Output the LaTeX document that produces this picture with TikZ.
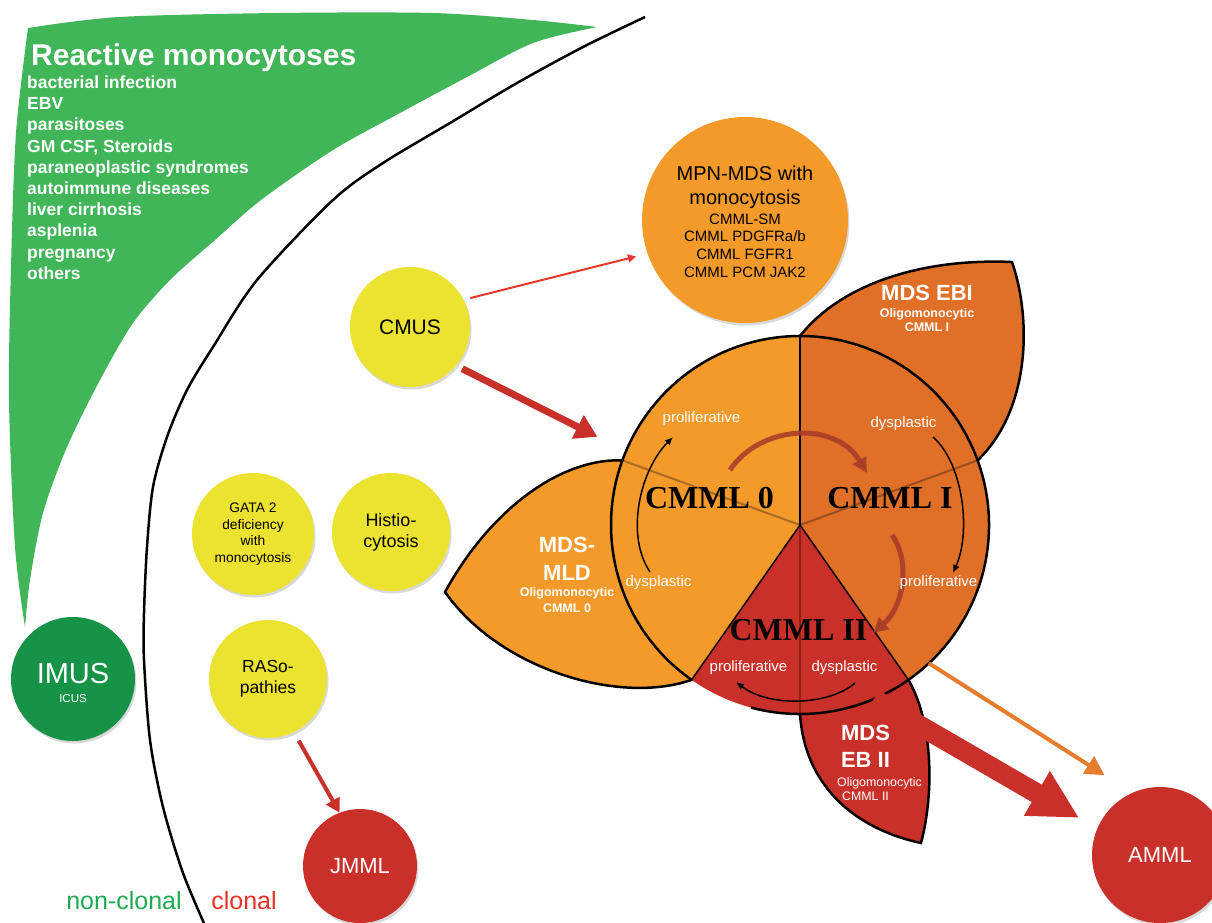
\documentclass[tikz,border=0pt]{standalone}
\usepackage{fontspec}
\setmainfont{Liberation Sans}
\newfontfamily\stagefont{Liberation Serif}
\usepackage{tikz}
\usetikzlibrary{arrows.meta,shadows}
\definecolor{reactgreen}{RGB}{64,182,88}
\definecolor{imusgreen}{RGB}{23,147,72}
\definecolor{dotyellow}{RGB}{236,226,48}
\definecolor{lightorange}{RGB}{244,154,43}
\definecolor{darkorange}{RGB}{224,111,40}
\definecolor{cmmlred}{RGB}{201,48,41}
\definecolor{arrowred}{RGB}{232,56,45}
\definecolor{arroworange}{RGB}{230,124,46}
\definecolor{arcred}{RGB}{166,58,40}
\definecolor{labelgreen}{RGB}{30,170,80}
\definecolor{labelred}{RGB}{232,50,40}
\tikzstyle{blob}=[circle, inner sep=0pt, outer sep=0pt, align=center, drop shadow={shadow xshift=1.5pt, shadow yshift=-2.5pt, opacity=0.3}]
\tikzstyle{yellowblob}=[blob, fill=dotyellow, text=black]
\tikzstyle{redblob}=[blob, fill=cmmlred, text=white, font=\fontsize{22}{26}\selectfont]
\tikzstyle{titletext}=[anchor=base west, inner sep=0pt, text=white, font=\bfseries\fontsize{30}{36}\selectfont]
\tikzstyle{listtext}=[anchor=base west, inner sep=0pt, text=white, font=\bfseries\fontsize{17.5}{21}\selectfont]
\tikzstyle{mpnbig}=[anchor=base, inner sep=0pt, font=\fontsize{20}{24}\selectfont]
\tikzstyle{mpnsmall}=[anchor=base, inner sep=0pt, font=\fontsize{15}{18}\selectfont]
\tikzstyle{lobebig}=[anchor=base, inner sep=0pt, text=white, font=\bfseries\fontsize{22}{26}\selectfont]
\tikzstyle{lobesmall}=[anchor=base, inner sep=0pt, text=white, font=\bfseries\fontsize{12.5}{15}\selectfont]
\tikzstyle{stagetext}=[anchor=base, inner sep=0pt, font=\stagefont\bfseries\fontsize{32}{38}\selectfont]
\tikzstyle{phasetext}=[anchor=base, inner sep=0pt, text=white, font=\fontsize{15}{18}\selectfont]
\tikzstyle{lobeline}=[draw=black, line width=2.5pt, line join=miter]
\tikzstyle{thinarrow}=[draw=arrowred, line width=2pt, -{Triangle[length=8pt,width=8pt]}]
\tikzstyle{thickarrow}=[draw=cmmlred, line width=7pt, -{Triangle[length=22pt,width=25pt]}]
\tikzstyle{hugearrow}=[draw=cmmlred, line width=20pt, -{Triangle[length=49pt,width=48pt]}]
\tikzstyle{orangearrow}=[draw=arroworange, line width=4pt, -{Triangle[length=19pt,width=20pt]}]
\tikzstyle{jmmlarrow}=[draw=cmmlred, line width=4pt, -{Triangle[length=14pt,width=15pt]}]
\tikzstyle{cyclearrow}=[draw=black, line width=1.5pt, -{Latex[length=8pt,width=7pt]}]
\tikzstyle{progarrow}=[draw=arcred, opacity=0.85, line width=5pt, -{Triangle[length=15pt,width=15pt]}]

\begin{document}
\begin{tikzpicture}[x=1pt, y=-1pt]
	\useasboundingbox (0, 0) rectangle (1212, 922);
	\begin{scope}
		\fill[reactgreen] plot[smooth] coordinates {(28,28) (119,17) (277,13) (433,13) (533,20) (597,27)}
			-- plot[smooth] coordinates {(597,27) (533,43) (467,77) (400,113) (333,150) (261,200) (215,240) (170,280) (133,323) (100,380) (67,447) (43,513) (30,580) (25,627)}
			-- plot[smooth] coordinates {(25,627) (15,547) (9,400) (11,267) (16,133) (28,28)} -- cycle;
		\draw[line width=2.5pt] plot[smooth] coordinates {(645,17) (583,47) (517,83) (450,123) (383,163) (333,200) (257,280) (213,347) (187,390) (167,437) (153,487) (147,547) (144,613) (144,660) (150,740) (163,807) (183,873) (207,930)};
		\node (react) at (31, 65.7)[titletext] {Reactive monocytoses};
		\foreach \cause [count=\i] in {bacterial infection, EBV, parasitoses, {GM CSF, Steroids}, paraneoplastic syndromes, autoimmune diseases, liver cirrhosis, asplenia, pregnancy, others}
			\node (react\i) at (27, {67.3+21.2*\i})[listtext] {\cause};
		\node (nonclonal) at (124, 909.3)[anchor=base, inner sep=0pt, text=labelgreen, font=\fontsize{25}{30}\selectfont] {non-clonal};
		\node (clonal) at (244, 909.3)[anchor=base, inner sep=0pt, text=labelred, font=\fontsize{25}{30}\selectfont] {clonal};
	\end{scope}
	\begin{scope}
		\node (imus) at (73, 679)[blob, fill=imusgreen, minimum size=124pt] {};
		\node (imust) at (73, 683.3)[anchor=base, inner sep=0pt, text=white, font=\fontsize{29}{34}\selectfont] {IMUS};
		\node (icus) at (73, 702.3)[anchor=base, inner sep=0pt, text=white, font=\fontsize{11.5}{14}\selectfont] {ICUS};
		\node (cmus) at (410, 327)[yellowblob, minimum size=120pt, font=\fontsize{21}{25}\selectfont] {CMUS};
		\node (gata) at (253, 534)[yellowblob, minimum size=122pt, font=\fontsize{13.8}{16.7}\selectfont] {GATA 2\\deficiency\\with\\monocytosis};
		\node (histio) at (391, 532)[yellowblob, minimum size=118pt, font=\fontsize{18}{21}\selectfont] {Histio-\\cytosis};
		\node (raso) at (268, 679)[yellowblob, minimum size=118pt, font=\fontsize{17.5}{21}\selectfont] {RASo-\\pathies};
		\node (jmml) at (360, 866)[redblob, minimum size=114pt] {JMML};
		\node (amml) at (1160, 855)[redblob, minimum size=136pt] {AMML};
		\node (mpn) at (745, 220)[blob, fill=lightorange, minimum size=206pt] {};
		\node (mpn1) at (745, 180)[mpnbig] {MPN-MDS with};
		\node (mpn2) at (745, 204)[mpnbig] {monocytosis};
		\foreach \sub [count=\i] in {CMML-SM, CMML PDGFRa/b, CMML FGFR1, CMML PCM JAK2}
			\node (mpnl\i) at (745, {206.3+17.7*\i})[mpnsmall] {\sub};
	\end{scope}
	\begin{scope}
		\node (cmml) at (800, 525)[circle, minimum size=378pt, inner sep=0pt, outer sep=0pt] {};
		\filldraw[lobeline, fill=lightorange] (cmml.160) .. controls (560,458) and (490,510) .. (445,592) .. controls (500,670) and (620,705) .. (cmml.235) -- cycle;
		\filldraw[lobeline, fill=darkorange] (cmml.90) .. controls (840,285) and (920,258) .. (1012,262) .. controls (1032,320) and (1030,410) .. (cmml.20) -- cycle;
		\filldraw[lobeline, fill=cmmlred] (cmml.270) .. controls (805,790) and (860,830) .. (921,843) .. controls (935,790) and (932,720) .. (cmml.305) -- cycle;
		\fill[lightorange] (cmml.center) -- (cmml.235) arc[start angle=235, end angle=90, radius=189pt] -- cycle;
		\fill[darkorange] (cmml.center) -- (cmml.90) arc[start angle=90, end angle=-55, radius=189pt] -- cycle;
		\fill[cmmlred] (cmml.center) -- (cmml.305) arc[start angle=-55, end angle=-125, radius=189pt] -- cycle;
		\draw[line width=2pt, opacity=0.3] (cmml.160) -- (cmml.center) -- (cmml.20);
		\draw[line width=2pt, opacity=0.3] (cmml.center) -- (cmml.270);
		\draw[line width=1.2pt] (cmml.90) -- (cmml.center);
		\draw[line width=1.5pt] (cmml.235) -- (cmml.center) -- (cmml.305);
		\draw[line width=2.5pt] (cmml.235) arc[start angle=235, end angle=-105, radius=189pt];
	\end{scope}
	\begin{scope}
		\node (ebi1) at (927, 300)[lobebig] {MDS EBI};
		\node (ebi2) at (927, 317.3)[lobesmall] {Oligomonocytic};
		\node (ebi3) at (927, 331.7)[lobesmall] {CMML I};
		\node (mld1) at (567, 552.3)[lobebig] {MDS-};
		\node (mld2) at (567, 580)[lobebig] {MLD};
		\node (mld3) at (567, 596.7)[lobesmall] {Oligomonocytic};
		\node (mld4) at (567, 612.3)[lobesmall] {CMML 0};
		\node (ebii1) at (865.5, 740.7)[lobebig] {MDS};
		\node (ebii2) at (865.5, 767.3)[lobebig] {EB II};
		\node (ebii3) at (879.5, 786)[lobesmall, font=\fontsize{12.4}{15}\selectfont] {Oligomonocytic};
		\node (ebii4) at (865.5, 800.7)[lobesmall, font=\fontsize{12.4}{15}\selectfont] {CMML II};
		\node (stage0) at (709.5, 508.3)[stagetext] {CMML 0};
		\node (stage1) at (890, 508.3)[stagetext] {CMML I};
		\node (stage2) at (798.5, 640)[stagetext] {CMML II};
	\end{scope}
	\begin{scope}
		\coordinate (c0s) at (650, 572);
		\coordinate (c0e) at (673, 437);
		\coordinate (c1s) at (933, 437);
		\coordinate (c1e) at (953, 573);
		\coordinate (c2s) at (855, 683);
		\coordinate (c2e) at (736, 682);
		\coordinate (g0s) at (730, 470);
		\coordinate (g0e) at (867, 473);
		\coordinate (g1s) at (892, 535);
		\coordinate (g1e) at (873, 633);
		\draw[cyclearrow] (c0s) .. controls (625,535) and (640,470) .. (c0e);
		\draw[cyclearrow] (c1s) .. controls (962,462) and (972,530) .. (c1e);
		\draw[cyclearrow] (c2s) .. controls (830,705) and (770,708) .. (c2e);
		\draw[progarrow] (g0s) .. controls (760,425) and (835,420) .. (g0e);
		\draw[progarrow] (g1s) .. controls (910,560) and (905,605) .. (g1e);
		\node (p0) at (701.5, 422.7)[phasetext] {proliferative};
		\node (d0) at (658.5, 586.7)[phasetext] {dysplastic};
		\node (d1) at (903.5, 427.3)[phasetext] {dysplastic};
		\node (p1) at (938.5, 586)[phasetext] {proliferative};
		\node (p2) at (748.5, 671)[phasetext] {proliferative};
		\node (d2) at (844.5, 671)[phasetext] {dysplastic};
	\end{scope}
	\begin{scope}
		\draw [thinarrow, shorten <=7pt, shorten >=12pt] (cmus.27) -- (mpn.199);
		\draw [thickarrow, shorten <=7pt, shorten >=32pt] (cmus.-40) -- (cmml.157);
		\draw [jmmlarrow, shorten <=10pt] (raso.-64) -- (jmml.111);
		\draw [orangearrow, shorten >=33pt] (cmml.-47) -- (amml.114);
		\draw [hugearrow, shorten >=21pt] (cmml.-67) -- (amml.157);
	\end{scope}
\end{tikzpicture}
\end{document}
